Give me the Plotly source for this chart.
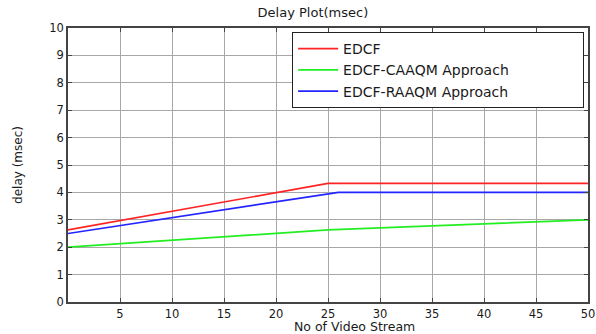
import plotly.graph_objects as go

x_edcf = [0, 25, 50]
y_edcf = [2.63, 4.33, 4.33]
x_caaqm = [0, 10, 20, 25, 50]
y_caaqm = [2.0, 2.26, 2.5, 2.63, 3.0]
x_raaqm = [0, 26, 50]
y_raaqm = [2.5, 4.0, 4.0]

x_ticks = [5, 10, 15, 20, 25, 30, 35, 40, 45, 50]
y_ticks = list(range(0, 11))

FONT = "DejaVu Sans, Arial"
TXT = "#1a1a1a"

fig = go.Figure()
fig.add_trace(go.Scatter(x=x_edcf, y=y_edcf, mode="lines", name="EDCF",
                         line=dict(color="#ff2424", width=1.7)))
fig.add_trace(go.Scatter(x=x_caaqm, y=y_caaqm, mode="lines", name="EDCF-CAAQM Approach",
                         line=dict(color="#22ee22", width=1.7)))
fig.add_trace(go.Scatter(x=x_raaqm, y=y_raaqm, mode="lines", name="EDCF-RAAQM Approach",
                         line=dict(color="#2424ff", width=1.7)))

axis_common = dict(showline=True, linecolor="#444", linewidth=1.5, mirror="allticks",
                   ticks="inside", ticklen=4, tickcolor="#444",
                   showgrid=True, gridcolor="#a8a8a8", gridwidth=1.2, zeroline=False,
                   tickfont=dict(family=FONT, size=11.5, color=TXT), automargin=False)

fig.update_layout(
    width=596, height=334,
    margin=dict(l=68, r=8, t=28, b=32, autoexpand=False),
    paper_bgcolor="white", plot_bgcolor="white",
    title=dict(text="Delay Plot(msec)", x=0.525, xanchor="center", y=0.975, yanchor="top",
               font=dict(family=FONT, size=13, color=TXT)),
    xaxis=dict(range=[0, 50], tickvals=x_ticks, ticktext=[str(v) for v in x_ticks],
               **axis_common),
    yaxis=dict(range=[0, 10], tickvals=y_ticks,
               title=dict(text="delay (msec)", standoff=24,
                          font=dict(family=FONT, size=12, color=TXT)),
               **axis_common),
    legend=dict(orientation="h", entrywidth=235, entrywidthmode="pixels",
                x=0.431, y=0.985, xanchor="left", yanchor="top",
                bgcolor="white", bordercolor="#222", borderwidth=1,
                font=dict(family=FONT, size=14, color=TXT),
                tracegroupgap=0, itemwidth=40),
    showlegend=True,
    annotations=[dict(text="No of Video Stream", xref="paper", yref="paper",
                      x=0.55, y=0, yshift=-24, xanchor="center", yanchor="middle",
                      showarrow=False, font=dict(family=FONT, size=12.5, color=TXT))],
)

fig.write_html("out.html")
